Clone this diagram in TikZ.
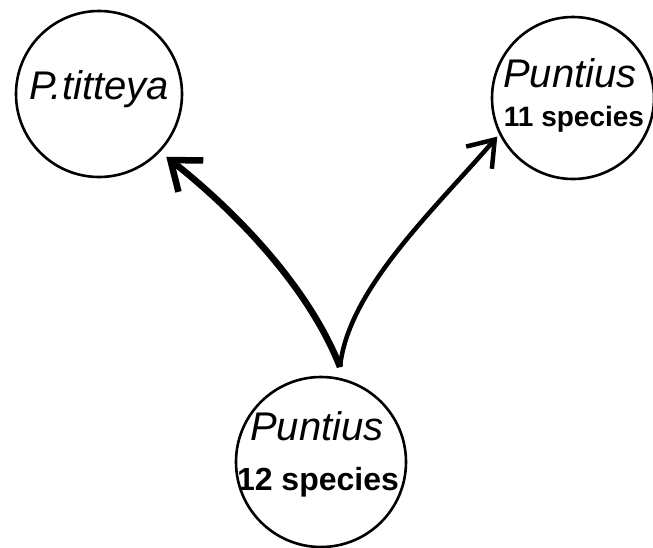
\documentclass[tikz,border=0pt]{standalone}
\usepackage{fontspec}
\setmainfont{Liberation Sans}
\usetikzlibrary{arrows.meta}
\begin{document}
\begin{tikzpicture}[x=1pt,y=-1pt,
  taxon/.style={circle,draw,line width=2.6pt,inner sep=0pt},
  lbl/.style={inner sep=0pt,anchor=center},
  thickarrow/.style={line width=6.5pt,-{Straight Barb[length=26pt,width=40pt]}},
  thinarrow/.style={line width=4.5pt,-{Straight Barb[length=24pt,width=34pt]}}]
\useasboundingbox (0,0) rectangle (653,547);
\node[taxon,minimum size=166pt,outer sep=9pt] (tl) at (99,94) {};
\node[taxon,minimum size=162pt,outer sep=4pt] (tr) at (573,98) {};
\node[taxon,minimum size=170pt] (bot) at (321,462) {};
\node[lbl,font=\fontsize{40}{40}\selectfont\itshape] (t1) at (99,89) {P.titteya};
\node[lbl,font=\fontsize{40}{40}\selectfont\itshape] (t2) at (570,73) {Puntius};
\node[lbl,font=\fontsize{28}{28}\selectfont\bfseries] (t3) at (574,119) {11 species};
\node[lbl,font=\fontsize{32}{32}\selectfont\bfseries] (t5) at (318,482) {12 species};
\node[lbl,font=\fontsize{40}{40}\selectfont\itshape] (t4) at (317,426) {Puntius};
\coordinate (apex) at (340,367);
\draw[thickarrow] (apex) .. controls (310,290) and (240,215) .. (tl.-43);
\draw[thinarrow] (apex) .. controls (348,290) and (432,212) .. (tr.207);
\end{tikzpicture}
\end{document}
